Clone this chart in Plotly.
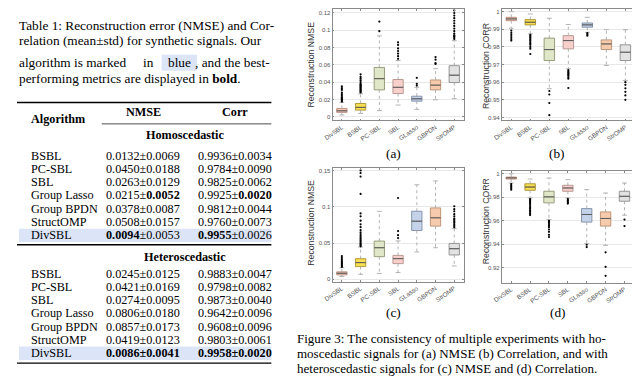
import plotly.graph_objects as go

W, H = 640, 378
def px(x): return x / W
def py(y): return 1 - y / H

# ---------------- box plot data ----------------
cats = ["DivSBL", "BSBL", "PC-SBL", "SBL", "GLasso", "GBPDN", "StrOMP"]

# (a) NMSE, homoscedastic
a_q1 = [0.0050, 0.0076, 0.0310, 0.0268, 0.0180, 0.0310, 0.0395]
a_med = [0.0068, 0.0108, 0.0440, 0.0340, 0.0207, 0.0365, 0.0480]
a_q3 = [0.0095, 0.0153, 0.0570, 0.0430, 0.0237, 0.0425, 0.0590]
a_lo = [0.0020, 0.0038, 0.0070, 0.0135, 0.0085, 0.0195, 0.0210]
a_hi = [0.0165, 0.0265, 0.0935, 0.0650, 0.0340, 0.0555, 0.0880]
a_out = [
    [0.0175, 0.0185, 0.0195, 0.0205, 0.0215, 0.0225, 0.024, 0.026, 0.028, 0.031, 0.033, 0.035],
    [0.028, 0.029, 0.030, 0.031, 0.032, 0.033, 0.034, 0.035, 0.036, 0.037, 0.038, 0.040, 0.042, 0.044, 0.046, 0.049],
    [0.099, 0.110],
    [0.067, 0.070, 0.073, 0.076, 0.079, 0.083, 0.086],
    [0.036, 0.038, 0.045],
    [0.061, 0.062, 0.066, 0.069],
    [0.090, 0.092, 0.093, 0.094, 0.096, 0.099, 0.102, 0.105, 0.108, 0.111, 0.114, 0.117, 0.120, 0.123],
]

# (b) CORR, homoscedastic
b_q1 = [0.9949, 0.9925, 0.9723, 0.9789, 0.9912, 0.9785, 0.9723]
b_med = [0.9959, 0.9940, 0.9785, 0.9836, 0.9925, 0.9817, 0.9770]
b_q3 = [0.9968, 0.9955, 0.9850, 0.9864, 0.9936, 0.9840, 0.9812]
b_lo = [0.9906, 0.9874, 0.9563, 0.9676, 0.9883, 0.9695, 0.9610]
b_hi = [1.0000, 0.9987, 0.9963, 0.9927, 0.9968, 0.9898, 0.9898]
b_out = [
    [0.9893, 0.9880, 0.9868, 0.9856, 0.9845, 0.9836],
    [0.9868, 0.9862, 0.9856, 0.9850, 0.9843, 0.9836, 0.9828, 0.9820, 0.9812, 0.9800, 0.9790, 0.9760],
    [0.9550, 0.9530, 0.9482, 0.9413],
    [0.9668, 0.9660, 0.9654, 0.9648, 0.9642, 0.9636, 0.9628, 0.9620, 0.9567],
    [0.9878, 0.9870, 0.9864],
    [],
    [0.9600, 0.9585, 0.9565, 0.9545, 0.9525, 0.9500],
]

# (c) NMSE, heteroscedastic
c_q1 = [0.0060, 0.0175, 0.0312, 0.0216, 0.0674, 0.0735, 0.0336]
c_med = [0.0083, 0.0230, 0.0436, 0.0285, 0.0803, 0.0850, 0.0422]
c_q3 = [0.0102, 0.0285, 0.0528, 0.0330, 0.0941, 0.0987, 0.0495]
c_lo = [0.0037, 0.0069, 0.0080, 0.0092, 0.0377, 0.0436, 0.0184]
c_hi = [0.0160, 0.0446, 0.0940, 0.0530, 0.1307, 0.1360, 0.0700]
c_out = [
    [0.0170, 0.0185, 0.0200, 0.0215, 0.0230, 0.0250, 0.0270, 0.0295, 0.0320],
    [0.0455, 0.0470, 0.0485, 0.0500, 0.0520, 0.0540, 0.0560, 0.0580, 0.0600, 0.0625, 0.0650,
     0.0680, 0.0720, 0.0760, 0.0810, 0.0870, 0.0910, 0.1180, 0.1420, 0.1470, 0.1505],
    [],
    [0.0570, 0.0610, 0.0666, 0.1124],
    [],
    [],
    [0.072, 0.074, 0.076, 0.078, 0.080, 0.082, 0.084, 0.087, 0.090, 0.094, 0.097, 0.101],
]

# (d) CORR, heteroscedastic
d_q1 = [0.9955, 0.9859, 0.9752, 0.9851, 0.9588, 0.9554, 0.9766]
d_med = [0.9965, 0.9887, 0.9803, 0.9879, 0.9653, 0.9619, 0.9808]
d_q3 = [0.9972, 0.9915, 0.9851, 0.9902, 0.9703, 0.9675, 0.9851]
d_lo = [0.9921, 0.9794, 0.9610, 0.9794, 0.9404, 0.9390, 0.9647]
d_hi = [1.0000, 0.9955, 0.9964, 0.9950, 0.9865, 0.9836, 0.9921]
d_out = [
    [0.9912, 0.9900, 0.9888, 0.9876, 0.9864],
    [0.9785, 0.9778, 0.9770, 0.9760, 0.9750, 0.9740, 0.9725, 0.9712, 0.9700, 0.9688, 0.9675, 0.9660, 0.9648],
    [0.9598, 0.9590, 0.9582, 0.9572, 0.9560, 0.9545, 0.9525, 0.9505, 0.9480, 0.9461],
    [0.9785, 0.9775, 0.9765, 0.9755, 0.9746],
    [0.9395, 0.9375],
    [0.9330, 0.9207, 0.9130],
    [0.9610, 0.9554],
]

nmse_a_ticks = [0, 0.02, 0.04, 0.06, 0.08, 0.1, 0.12]
nmse_a_labels = ["0", "0.02", "0.04", "0.06", "0.08", "0.1", "0.12"]
corr_b_ticks = [0.94, 0.95, 0.96, 0.97, 0.98, 0.99, 1.0]
corr_b_labels = ["0.94", "0.95", "0.96", "0.97", "0.98", "0.99", "1"]
nmse_c_ticks = [0, 0.05, 0.1, 0.15]
nmse_c_labels = ["0", "0.05", "0.1", "0.15"]
corr_d_ticks = [0.92, 0.94, 0.96, 0.98, 1.0]
corr_d_labels = ["0.92", "0.94", "0.96", "0.98", "1"]

fills = ["#f4cbb8", "#f7de52", "#e0e6c8", "#f7d0cc", "#c5d3ea", "#f6cbad", "#e2e2e2"]
edges = ["#b88a7a", "#a8922c", "#8e9472", "#b48f8c", "#7d8ba5", "#b88e70", "#8c8c8c"]

# ---------------- table data ----------------
algorithms = ["BSBL", "PC-SBL", "SBL", "Group Lasso", "Group BPDN", "StructOMP", "DivSBL"]
homo_nmse = ["0.0132±0.0069", "0.0450±0.0188", "0.0263±0.0129", "0.0215±<b>0.0052</b>",
             "0.0378±0.0087", "0.0508±0.0157", "<b>0.0094</b>±0.0053"]
homo_corr = ["0.9936±0.0034", "0.9784±0.0090", "0.9825±0.0062", "0.9925±<b>0.0020</b>",
             "0.9812±0.0044", "0.9760±0.0073", "<b>0.9955</b>±0.0026"]
hetero_nmse = ["0.0245±0.0125", "0.0421±0.0169", "0.0274±0.0095", "0.0806±0.0180",
               "0.0857±0.0173", "0.0419±0.0123", "<b>0.0086±0.0041</b>"]
hetero_corr = ["0.9883±0.0047", "0.9798±0.0082", "0.9873±0.0040", "0.9642±0.0096",
               "0.9608±0.0096", "0.9803±0.0061", "<b>0.9958±0.0020</b>"]

fig = go.Figure()

panels = [
    dict(q1=a_q1, med=a_med, q3=a_q3, lo=a_lo, hi=a_hi, out=a_out, xa="x", ya="y"),
    dict(q1=b_q1, med=b_med, q3=b_q3, lo=b_lo, hi=b_hi, out=b_out, xa="x2", ya="y2"),
    dict(q1=c_q1, med=c_med, q3=c_q3, lo=c_lo, hi=c_hi, out=c_out, xa="x3", ya="y3"),
    dict(q1=d_q1, med=d_med, q3=d_q3, lo=d_lo, hi=d_hi, out=d_out, xa="x4", ya="y4"),
]

BW = 0.55
for p in panels:
    xa, ya = p["xa"], p["ya"]
    wx, wy, cx, cy, mx, my, ox, oy = [], [], [], [], [], [], [], []
    for i in range(len(cats)):
        wx += [i, i, None, i, i, None]
        wy += [p["q3"][i], p["hi"][i], None, p["q1"][i], p["lo"][i], None]
        cx += [i - 0.13, i + 0.13, None, i - 0.13, i + 0.13, None]
        cy += [p["hi"][i], p["hi"][i], None, p["lo"][i], p["lo"][i], None]
        mx += [i - BW / 2, i + BW / 2, None]
        my += [p["med"][i], p["med"][i], None]
        ox += [i] * len(p["out"][i])
        oy += p["out"][i]
    fig.add_trace(go.Scatter(x=wx, y=wy, mode="lines", xaxis=xa, yaxis=ya,
                             line=dict(color="#a0a0a0", width=0.8, dash="dot"),
                             showlegend=False, hoverinfo="skip"))
    fig.add_trace(go.Scatter(x=cx, y=cy, mode="lines", xaxis=xa, yaxis=ya,
                             line=dict(color="#a0a0a0", width=0.8),
                             showlegend=False, hoverinfo="skip"))
    for i in range(len(cats)):
        fig.add_trace(go.Box(x=[i], q1=[p["q1"][i]], median=[p["med"][i]], q3=[p["q3"][i]],
                             lowerfence=[p["q1"][i]], upperfence=[p["q3"][i]],
                             width=BW, whiskerwidth=0, fillcolor=fills[i],
                             line=dict(color=edges[i], width=0.9), boxpoints=False,
                             xaxis=xa, yaxis=ya, showlegend=False, hoverinfo="skip"))
    fig.add_trace(go.Scatter(x=mx, y=my, mode="lines", xaxis=xa, yaxis=ya,
                             line=dict(color="#5a5a5a", width=1.0),
                             showlegend=False, hoverinfo="skip"))
    fig.add_trace(go.Scatter(x=ox, y=oy, mode="markers", xaxis=xa, yaxis=ya,
                             marker=dict(color="black", size=2.2),
                             showlegend=False, hoverinfo="skip"))

axis_common = dict(showline=True, linecolor="#8a8a8a", linewidth=0.8, mirror="ticks",
                   ticks="inside", ticklen=2, tickcolor="#8a8a8a", zeroline=False)
xcommon = dict(axis_common, range=[-0.5, 6.5], tickmode="array", tickvals=list(range(len(cats))),
               ticktext=cats, tickangle=-35, showgrid=False,
               tickfont=dict(family="Liberation Sans", size=6.3, color="#555"))
ycommon = dict(axis_common, showgrid=True, gridcolor="#e8e8e8", gridwidth=0.6, tickmode="array",
               tickfont=dict(family="Liberation Sans", size=6, color="#555"))

fig.update_layout(
    width=W, height=H, margin=dict(l=0, r=0, t=0, b=0),
    paper_bgcolor="white", plot_bgcolor="white", showlegend=False,
    xaxis=dict(xcommon, domain=[px(320), px(453)], anchor="y"),
    xaxis2=dict(xcommon, domain=[px(491.7), px(626.7)], anchor="y2"),
    xaxis3=dict(xcommon, domain=[px(320), px(453)], anchor="y3"),
    xaxis4=dict(xcommon, domain=[px(491.7), px(625.7)], anchor="y4"),
    yaxis=dict(ycommon, domain=[py(112), py(0)], anchor="x", range=[-0.0043, 0.1246],
               tickvals=nmse_a_ticks, ticktext=nmse_a_labels),
    yaxis2=dict(ycommon, domain=[py(112), py(0)], anchor="x2", range=[0.93831, 1.00152],
                tickvals=corr_b_ticks, ticktext=corr_b_labels),
    yaxis3=dict(ycommon, domain=[py(274), py(160)], anchor="x3", range=[-0.0032, 0.1537],
                tickvals=nmse_c_ticks, ticktext=nmse_c_labels),
    yaxis4=dict(ycommon, domain=[py(275), py(163.3)], anchor="x4", range=[0.90727, 1.002],
                tickvals=corr_d_ticks, ticktext=corr_d_labels),
)

serif = "Liberation Serif"
ann = []
def text(x, y, s, size=13.3, anchor="left", family=serif, color="black", angle=0):
    ann.append(dict(x=px(x), y=py(y), xref="paper", yref="paper", text=s, showarrow=False,
                    xanchor=anchor, yanchor="middle", textangle=angle, borderpad=0,
                    font=dict(family=family, size=size, color=color)))

# y-axis titles
sans = "Liberation Sans"
text(298, 56, "Reconstruction NMSE", size=8.7, anchor="center", family=sans, color="#333", angle=-90)
text(475, 57, "Reconstruction CORR", size=8.7, anchor="center", family=sans, color="#333", angle=-90)
text(298, 215, "Reconstruction NMSE", size=8.7, anchor="center", family=sans, color="#333", angle=-90)
text(476, 213, "Reconstruction CORR", size=8.7, anchor="center", family=sans, color="#333", angle=-90)

# subfigure labels
text(382, 145, "(a)", anchor="center")
text(548, 145, "(b)", anchor="center")
text(382, 305, "(c)", anchor="center")
text(549, 305, "(d)", anchor="center")

# Figure 3 caption
CS = 13
text(283, 331, "Figure 3: The consistency of multiple experiments with ho-", size=CS)
text(283, 346, "moscedastic signals for (a) NMSE (b) Correlation, and with", size=CS)
text(283, 361, "heteroscedastic signals for (c) NMSE and (d) Correlation.", size=CS)

# Table caption
text(1, 17, "Table 1: Reconstruction error (NMSE) and Cor-")
text(1, 32, "relation (mean±std) for synthetic signals. Our")
text(1, 54, "algorithm is marked")
text(140, 54, "in", anchor="right")
text(164.7, 54, "blue", anchor="center")
text(258, 54, ", and the best-", anchor="right")
text(1, 70, "performing metrics are displayed in <b>bold</b>.")

# Table body
TS = 12.2
text(12.7, 111, "<b>Algorithm</b>", size=TS)
text(128, 104, "<b>NMSE</b>", size=TS, anchor="center")
text(221, 104, "<b>Corr</b>", size=TS, anchor="center")
text(170, 127, "<b>Homoscedastic</b>", size=TS, anchor="center")
text(170, 249, "<b>Heteroscedastic</b>", size=TS, anchor="center")

homo_y0, het_y0, dy = 147.5, 266, 13.3
for i, name in enumerate(algorithms):
    y = homo_y0 + i * dy
    text(12.7, y, name, size=TS)
    text(128, y, homo_nmse[i], size=TS, anchor="center")
    text(221, y, homo_corr[i], size=TS, anchor="center")
    y2 = het_y0 + i * dy
    text(12.7, y2, algorithms[i], size=TS)
    text(128, y2, hetero_nmse[i], size=TS, anchor="center")
    text(221, y2, hetero_corr[i], size=TS, anchor="center")

hl = "#dbe5f7"
homo_last = homo_y0 + 6 * dy
het_last = het_y0 + 6 * dy
shapes = [
    dict(type="rect", xref="paper", yref="paper", x0=px(2), x1=px(258),
         y0=py(homo_last + 7), y1=py(homo_last - 6.5), fillcolor=hl, line=dict(width=0), layer="below"),
    dict(type="rect", xref="paper", yref="paper", x0=px(2), x1=px(258),
         y0=py(het_last + 7), y1=py(het_last - 6.5), fillcolor=hl, line=dict(width=0), layer="below"),
    dict(type="rect", xref="paper", yref="paper", x0=px(146.7), x1=px(182.7),
         y0=py(62), y1=py(46), fillcolor=hl, line=dict(width=0), layer="below"),
    dict(type="line", xref="paper", yref="paper", x0=px(0), x1=px(258), y0=py(94), y1=py(94),
         line=dict(color="black", width=1.4)),
    dict(type="line", xref="paper", yref="paper", x0=px(86), x1=px(258), y0=py(115.5), y1=py(115.5),
         line=dict(color="black", width=0.7)),
    dict(type="line", xref="paper", yref="paper", x0=px(0), x1=px(258), y0=py(237), y1=py(237),
         line=dict(color="black", width=1.4)),
    dict(type="line", xref="paper", yref="paper", x0=px(0), x1=px(258), y0=py(356), y1=py(356),
         line=dict(color="black", width=1.4)),
]

fig.update_layout(annotations=ann, shapes=shapes)
fig.write_html("out.html")
